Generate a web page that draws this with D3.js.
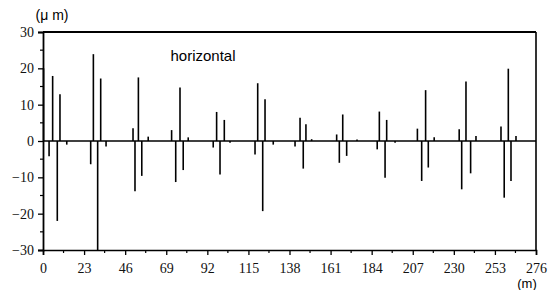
<!DOCTYPE html>
<html>
<head>
<meta charset="utf-8">
<script src="https://cdn.jsdelivr.net/npm/d3@7"></script>
<style>
  body { margin: 0; background: #fff; }
  svg { display: block; }
</style>
</head>
<body>
<svg id="chart"></svg>
<script>
// positions along the beam line (m) and horizontal offsets (um)
const positions = [0.3, 3.4, 5.4, 8.0, 9.5, 13.3,
  26.7, 28.2, 30.6, 32.3, 35.3,
  50.4, 51.5, 53.4, 55.3, 58.9,
  72.0, 74.3, 76.7, 78.5, 81.3,
  95.3, 97.2, 99.1, 101.5, 104.7,
  118.7, 120.2, 123.0, 124.3, 128.9,
  141.1, 143.9, 145.7, 147.2, 150.4,
  164.4, 165.9, 167.8, 170.0, 175.8,
  187.1, 188.3, 191.5, 192.4, 197.1,
  209.6, 212.0, 214.2, 215.7, 219.0,
  233.0, 234.4, 236.8, 239.4, 242.4,
  256.4, 258.2, 260.5, 262.0, 264.8];
const offsets = [20, -4.2, 17.9, -22, 12.9, -1,
  -6.4, 23.9, -30, 17.2, -1.5,
  3.5, -13.8, 17.5, -9.6, 1.2,
  3, -11.3, 14.7, -8, 1,
  -1.8, 8, -9.2, 5.8, -0.5,
  -3.7, 15.9, -19.3, 11.5, -1,
  -1.5, 6.4, -7.6, 4.6, 0.5,
  1.8, -6, 7.3, -4.1, 0.4,
  -2.3, 8.1, -10.1, 5.8, -0.5,
  3.4, -11, 14, -7.3, 1,
  3.2, -13.3, 16.4, -8.9, 1.4,
  4, -15.6, 19.9, -11, 1.4];
const xTicks = [0, 23, 46, 69, 92, 115, 138, 161, 184, 207, 230, 253, 276];
const yTicks = [-30, -20, -10, 0, 10, 20, 30];

const W = 557, H = 290;
const margin = { top: 32, right: 21, bottom: 40, left: 43 };

const svg = d3.select('#chart').attr('width', W).attr('height', H);

const x = d3.scaleLinear().domain([0, 276]).range([margin.left, W - margin.right]);
const y = d3.scaleLinear().domain([-30, 30]).range([H - margin.bottom, margin.top]);

// x axis with ticks pointing down
const xAxis = svg.append('g')
    .attr('transform', `translate(0,${y(-30)})`)
    .call(d3.axisBottom(x).tickValues(xTicks).tickSize(5).tickPadding(8).tickFormat(d3.format('d')));
xAxis.select('.domain').attr('stroke-width', 1.6);
xAxis.selectAll('.tick line').attr('stroke-width', 1.3);
xAxis.selectAll('text').attr('font-family', '"Liberation Serif", serif').attr('font-size', 14).attr('fill', '#111');

svg.append('g')
    .attr('transform', `translate(0,${y(-30)})`)
    .selectAll('line')
    .data(d3.range(11.5, 276, 23))
    .join('line')
    .attr('x1', d => x(d)).attr('x2', d => x(d))
    .attr('y1', 0).attr('y2', 3)
    .attr('stroke', '#000').attr('stroke-width', 1.2);

// y axis with ticks pointing left
const yAxis = svg.append('g')
    .attr('transform', `translate(${x(0)},0)`)
    .call(d3.axisLeft(y).tickValues(yTicks).tickSize(5).tickPadding(4));
yAxis.select('.domain').attr('stroke-width', 1.8);
yAxis.selectAll('.tick line').attr('stroke-width', 1.3);
yAxis.selectAll('text').attr('font-family', '"Liberation Serif", serif').attr('font-size', 14).attr('fill', '#111');

svg.append('g')
    .attr('transform', `translate(${x(0)},0)`)
    .selectAll('line')
    .data([-25, -15, -5, 5, 15, 25])
    .join('line')
    .attr('x1', -3).attr('x2', 0)
    .attr('y1', d => y(d)).attr('y2', d => y(d))
    .attr('stroke', '#000').attr('stroke-width', 1.2);

// frame top and right
svg.append('line')
    .attr('x1', x(0)).attr('x2', x(276))
    .attr('y1', y(30)).attr('y2', y(30))
    .attr('stroke', '#000').attr('stroke-width', 2);
svg.append('line')
    .attr('x1', x(276)).attr('x2', x(276))
    .attr('y1', y(30)).attr('y2', y(-30))
    .attr('stroke', '#000').attr('stroke-width', 1.6);

// zero line
svg.append('line')
    .attr('x1', x(0)).attr('x2', x(276))
    .attr('y1', y(0)).attr('y2', y(0))
    .attr('stroke', '#000').attr('stroke-width', 1.6);

// spikes
svg.append('g')
    .selectAll('line')
    .data(positions.map((p, i) => [p, offsets[i]]))
    .join('line')
    .attr('x1', d => x(d[0])).attr('x2', d => x(d[0]))
    .attr('y1', y(0)).attr('y2', d => y(d[1]))
    .attr('stroke', '#000').attr('stroke-width', 1.6);

// labels
svg.append('text')
    .attr('x', 52).attr('y', 20)
    .attr('text-anchor', 'middle')
    .attr('font-family', '"Liberation Sans", sans-serif').attr('font-size', 14)
    .text('(\u03bc m)');
svg.append('text')
    .attr('x', 203).attr('y', 61)
    .attr('text-anchor', 'middle')
    .attr('font-family', '"Liberation Sans", sans-serif').attr('font-size', 15)
    .text('horizontal');
svg.append('text')
    .attr('x', 527).attr('y', 288)
    .attr('text-anchor', 'middle')
    .attr('font-family', '"Liberation Sans", sans-serif').attr('font-size', 13)
    .text('(m)');
</script>
</body>
</html>
